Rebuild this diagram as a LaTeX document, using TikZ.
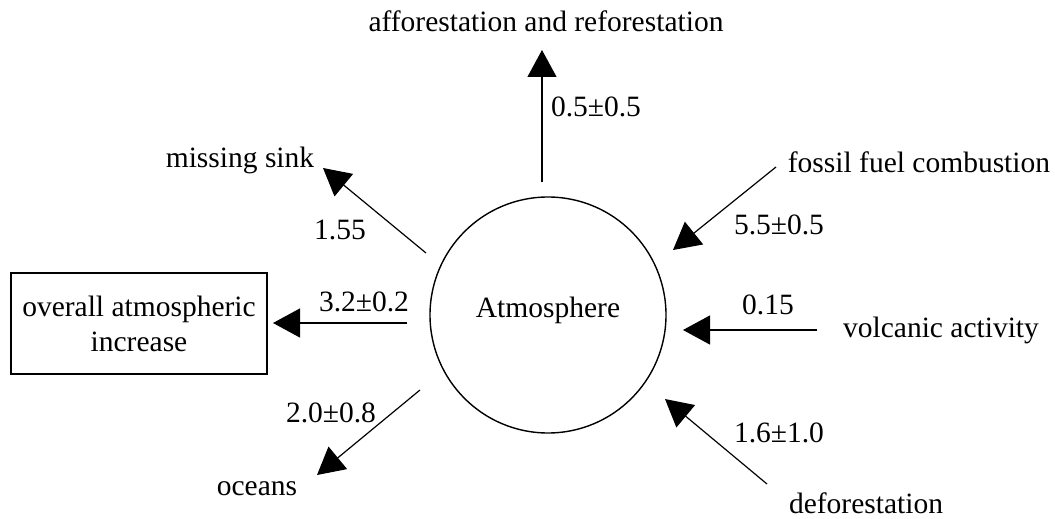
\documentclass[tikz,border=0pt]{standalone}
\usepackage{fontspec}
\setmainfont{Liberation Serif}
\usetikzlibrary{arrows.meta}
\begin{document}
\begin{tikzpicture}[x=1pt,y=-1pt,
  txt/.style={inner sep=0pt,font=\fontsize{29.5}{35}\selectfont},
  flow/.style={line width=1.2pt,-{Triangle[length=27pt,width=29pt]}}]
\useasboundingbox (0,0) rectangle (1055,519);
% central circle
\node[circle,draw,line width=1.4pt,minimum size=236pt,inner sep=0pt] (atm) at (548,315) {};
\node[txt] (atmlabel) at (548,310) {Atmosphere};
% box
\node[draw,line width=1.2pt,minimum width=256pt,minimum height=101pt,align=center,txt] (box) at (139,323.5) {overall atmospheric\\increase};
% end labels
\node[txt] (aff) at (546,21) {afforestation and reforestation};
\node[txt] (ms) at (240,160) {missing sink};
\node[txt] (ffc) at (919,162) {fossil fuel combustion};
\node[txt] (va) at (941,330) {volcanic activity};
\node[txt] (def) at (866,503) {deforestation};
\node[txt] (oc) at (257,489) {oceans};
% arrow end points
\coordinate (affS) at (542,182);
\coordinate (affT) at (542,50);
\coordinate (msS) at (426,253);
\coordinate (msT) at (323,168);
\coordinate (ffcS) at (776,167);
\coordinate (ffcT) at (673,250);
\coordinate (vaS) at (817,330);
\coordinate (vaT) at (683,330);
\coordinate (defS) at (767,484);
\coordinate (defT) at (665,399);
\coordinate (ocS) at (420,390);
\coordinate (ocT) at (317,475);
\coordinate (boxS) at (407,323);
\coordinate (boxT) at (273,323);
% arrows
\draw[flow] (affS) -- (affT);
\draw[flow] (msS) -- (msT);
\draw[flow] (ffcS) -- (ffcT);
\draw[flow] (vaS) -- (vaT);
\draw[flow] (defS) -- (defT);
\draw[flow] (ocS) -- (ocT);
\draw[flow] (boxS) -- (boxT);
% values
\node[txt] (vaff) at (596,107) {0.5±0.5};
\node[txt] (vms) at (340,230) {1.55};
\node[txt] (vffc) at (779,225) {5.5±0.5};
\node[txt] (vva) at (768,305) {0.15};
\node[txt] (vdef) at (779,433) {1.6±1.0};
\node[txt] (voc) at (331,413) {2.0±0.8};
\node[txt] (vbox) at (364,302) {3.2±0.2};
\end{tikzpicture}
\end{document}
